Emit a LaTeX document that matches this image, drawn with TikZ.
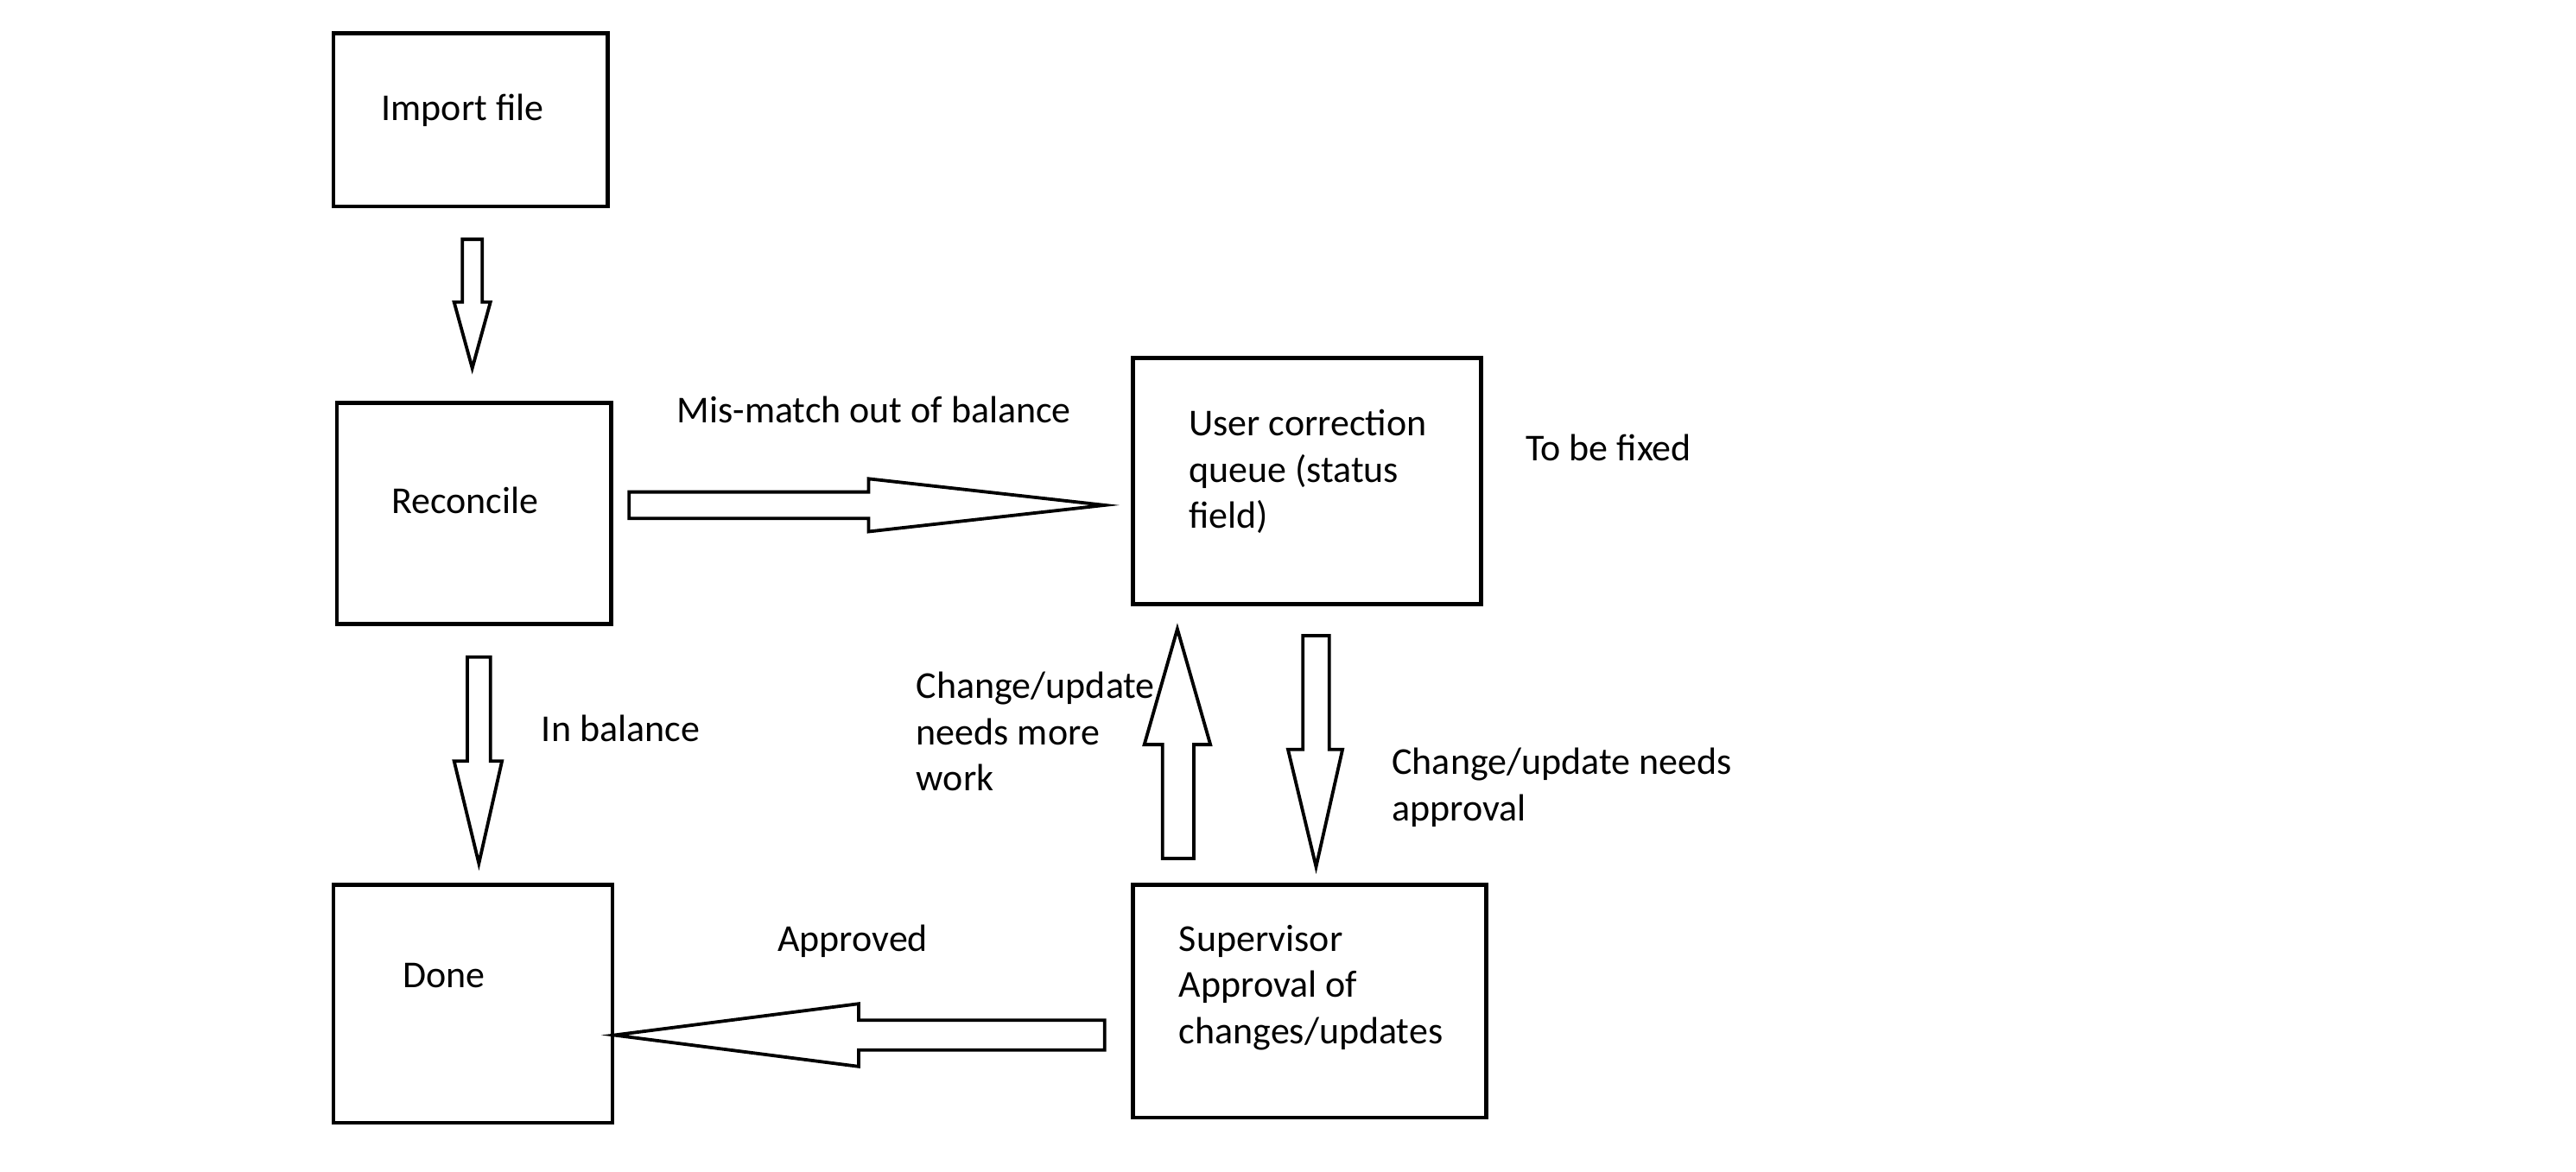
\documentclass[tikz,border=0pt]{standalone}
\usepackage{fontspec}
\setmainfont{Carlito}
\newcommand\mlines[1]{\begin{tabular}[t]{@{}l@{}}#1\end{tabular}}
\begin{document}
\begin{tikzpicture}[x=0.5pt,y=-0.5pt,
  box/.style={draw, line width=1.2pt, rectangle, inner sep=0pt, outer sep=0pt},
  txt/.style={inner sep=0pt, outer sep=0pt, anchor=base west, font=\fontsize{11.5}{14}\selectfont},
  barrow/.style={draw, line width=1pt, line join=miter, fill=white}]
\useasboundingbox[fill=white] (0,0) rectangle (1560,709.6);

% boxes
\node[box, minimum width=83pt, minimum height=52.5pt] (imp) at (285,72.5) {};
\node[box, minimum width=83pt, minimum height=67pt] (rec) at (287,311) {};
\node[box, minimum width=105.5pt, minimum height=74.5pt] (ucq) at (791.5,291.5) {};
\node[box, minimum width=84.5pt, minimum height=72pt] (done) at (286.5,608) {};
\node[box, minimum width=107pt, minimum height=70.5pt] (sup) at (793,606.5) {};

% box texts
\node[txt] (timp) at (231,73) {Import file};
\node[txt] (trec) at (237,311) {Reconcile};
\node[txt] (tucq) at (720,264) {\mlines{User correction\\queue (status\\field)}};
\node[txt] (tdone) at (244,598) {Done};
\node[txt] (tsup) at (714,576) {\mlines{Supervisor\\Approval of\\changes/updates}};

% labels
\node[txt] (lmis) at (410,256) {Mis-match out of balance};
\node[txt] (lfix) at (924,279) {To be fixed};
\node[txt] (lbal) at (328,449) {In balance};
\node[txt] (lmore) at (555,423) {\mlines{Change/update\\needs more\\work}};
\node[txt] (lappr) at (843,469) {\mlines{Change/update needs\\approval}};
\node[txt] (lok) at (471,576) {Approved};

% block arrows
% Import -> Reconcile
\draw[barrow] (280,145) -- (292,145) -- (292,183) -- (297,183) -- (286,223) -- (275,183) -- (280,183) -- cycle;
% Reconcile -> User correction queue
\draw[barrow] (381,298) -- (526,298) -- (526,290) -- (669,306) -- (526,322) -- (526,314) -- (381,314) -- cycle;
% Reconcile -> Done
\draw[barrow] (283,398) -- (297,398) -- (297,461) -- (304,461) -- (290,523) -- (275,461) -- (283,461) -- cycle;
% Supervisor -> User correction queue
\draw[barrow] (704,520) -- (723,520) -- (723,451) -- (733,451) -- (713,381) -- (693,451) -- (704,451) -- cycle;
% User correction queue -> Supervisor
\draw[barrow] (789,385) -- (805,385) -- (805,454) -- (813,454) -- (797,525) -- (780,454) -- (789,454) -- cycle;
% Supervisor -> Done
\draw[barrow] (669,618) -- (669,636) -- (520,636) -- (520,646) -- (372,627) -- (520,608) -- (520,618) -- cycle;
\end{tikzpicture}
\end{document}
